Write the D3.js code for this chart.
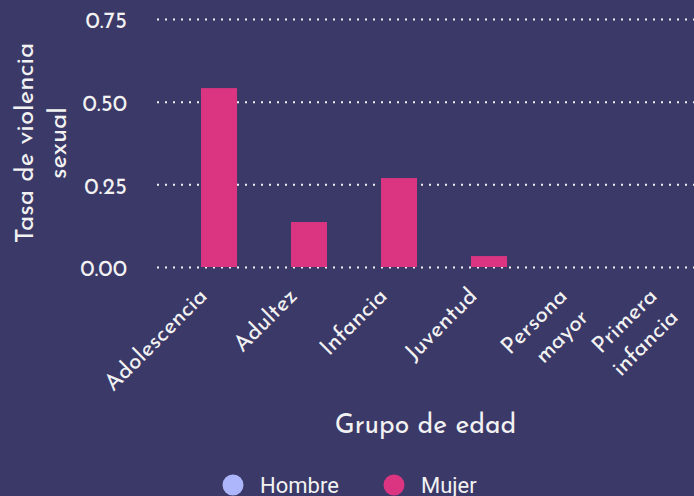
<!DOCTYPE html>
<html><head><meta charset="utf-8">
<script src="https://cdn.jsdelivr.net/npm/d3@7"></script>
<style>
html,body{margin:0;padding:0;background:#3b3968;}
svg{display:block;}
</style></head>
<body>
<svg id="chart" width="694" height="496"></svg>
<script>
const categories = ["Adolescencia","Adultez","Infancia","Juventud","Persona mayor","Primera infancia"];
const tickLabels = ["Adolescencia","Adultez","Infancia","Juventud","Persona\nmayor","Primera\ninfancia"];
const series = ["Hombre","Mujer"];
const hombre = [null,null,null,null,null,null];
const mujer = [0.541,0.136,0.269,0.033,null,null];
const yTicks = [0,0.25,0.5,0.75];
const colors = {Hombre:"#aeb6fb", Mujer:"#db3581"};

const W=694,H=496;
const bg="#3b3968", fg="#f2f2f2";
const font="'Josefin Sans', Lato, sans-serif";
const svg=d3.select("#chart");
svg.append("rect").attr("width",W).attr("height",H).attr("fill",bg);

const panelL=157, panelR=694;
const x=d3.scaleBand().domain(categories).range([156,696]).paddingInner(0).paddingOuter(0);
const xs=d3.scaleBand().domain(series).range([0.1*x.bandwidth(),0.9*x.bandwidth()]);
const y=d3.scaleLinear().domain([0,0.75]).range([267,19]);

// y axis + grid
const ya=svg.append("g").attr("transform",`translate(${panelL},0)`)
  .call(d3.axisLeft(y).tickValues(yTicks).tickFormat(d3.format(".2f")).tickSize(-(panelR-panelL)).tickPadding(30));
ya.select(".domain").remove();
ya.selectAll(".tick line").attr("stroke",fg).attr("stroke-width",2).attr("stroke-dasharray","2,6");
ya.selectAll(".tick text").attr("fill",fg).attr("font-family",font).attr("font-size",23).attr("dy","0.38em");

// bars
const data=[];
categories.forEach((c,i)=>{
  data.push({cat:c,s:"Hombre",v:hombre[i]});
  data.push({cat:c,s:"Mujer",v:mujer[i]});
});
svg.append("g").selectAll("rect").data(data.filter(d=>d.v!=null)).join("rect")
  .attr("x",d=>x(d.cat)+xs(d.s))
  .attr("width",xs.bandwidth())
  .attr("y",d=>y(d.v))
  .attr("height",d=>y(0)-y(d.v))
  .attr("fill",d=>colors[d.s]);

// x tick labels
const fs=23;
const xl=svg.append("g");
categories.forEach((c,i)=>{
  const cx=x(c)+x.bandwidth()/2;
  const t=xl.append("text").attr("transform",`translate(${cx-5},285) rotate(-45)`)
    .attr("text-anchor","end").attr("fill",fg).attr("font-family",font)
    .attr("font-size",fs);
  tickLabels[i].split("\n").forEach((line,j)=>{
    t.append("tspan").attr("x",0).attr("y",0).attr("dy",(0.75*fs+j*30)+"px").text(line);
  });
});

// x title
svg.append("text").attr("x",(panelL+panelR)/2).attr("y",433).attr("text-anchor","middle")
  .attr("fill",fg).attr("font-family",font).attr("font-size",26.5)
  .text("Grupo de edad");

// y title
const yt=svg.append("text").attr("transform","translate(0,143) rotate(-90)").attr("text-anchor","middle")
  .attr("fill",fg).attr("font-family",font).attr("font-size",26);
yt.append("tspan").attr("x",0).attr("y",33).text("Tasa de violencia");
yt.append("tspan").attr("x",0).attr("y",66).text("sexual");

// legend
const lg=svg.append("g");
const legX=[233,394];
series.forEach((s,i)=>{
  lg.append("circle").attr("cx",legX[i]).attr("cy",485).attr("r",10.5).attr("fill",colors[s]);
  lg.append("text").attr("x",legX[i]+27).attr("y",493).attr("fill",fg)
    .attr("font-family","Roboto, sans-serif").attr("font-size",22).text(s);
});
</script>
</body></html>
